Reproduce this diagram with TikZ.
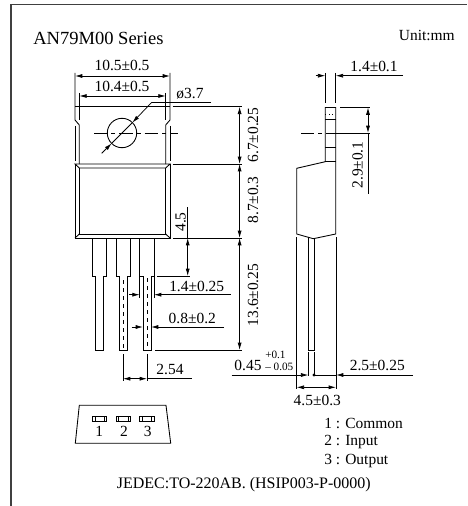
\documentclass[tikz,border=0pt]{standalone}
\usepackage{fontspec}
\setmainfont{Liberation Serif}
\usetikzlibrary{arrows.meta}
\tikzset{
  part/.style={line width=0.65pt},
  dim/.style={line width=0.55pt,>={Latex[length=5.5pt,width=3pt]}},
  centre/.style={line width=0.55pt,dash pattern=on 10pt off 3pt on 3pt off 3pt},
  lbl/.style={inner sep=0pt,font=\fontsize{11.6}{13}\selectfont},
  vlbl/.style={lbl,rotate=90},
  tiny/.style={inner sep=0pt,anchor=west,font=\fontsize{8.4}{10}\selectfont}
}
\begin{document}
\begin{tikzpicture}[x=0.75pt,y=-0.75pt]
  \useasboundingbox (0,0) rectangle (467,506);
  \draw[line width=0.8pt,black!75] (11,506) -- (11,4.5) -- (467,4.5);
  % titles
  \node[inner sep=0pt,anchor=west,font=\fontsize{13.9}{15}\selectfont] (title) at (33,38) {AN79M00 Series};
  \node[lbl,anchor=east] (unit) at (455,35) {Unit:mm};

  % front view, tab
  \draw[part] (75,73) -- (75,120) -- (79.3,125) -- (79.3,164);
  \draw[part] (170,73) -- (170,120) -- (165.7,125) -- (165.7,164);
  \draw[part] (75,126) -- (75,161);
  \draw[part] (170,126) -- (170,161);
  \draw[part] (79.3,93) -- (79.3,120);
  \draw[part] (165.7,93) -- (165.7,120);
  \draw[part] (75,106.7) -- (170,106.7);
  \draw[part] (122,133) circle (14.7);
  \draw[centre] (94,133) -- (178,133);
  % front view, body
  \draw[part] (75,164) -- (170,164) -- (165.7,168) -- (79.3,168) -- cycle;
  \draw[part] (75,164) -- (75,238) -- (170,238) -- (170,164);
  \draw[part] (79.3,168) -- (79.3,234) -- (165.7,234) -- (165.7,168);
  \draw[part] (79.3,234) -- (75,238);
  \draw[part] (165.7,234) -- (170,238);
  % front view, leads
  \draw[part] (92.3,238) -- (92.3,276) -- (95.3,276) -- (95.3,350) -- (103.3,350) -- (103.3,276) -- (106.3,276) -- (106.3,238);
  \draw[part] (116,238) -- (116,276) -- (119.3,276) -- (119.3,350) -- (127.7,350) -- (127.7,276) -- (130.7,276) -- (130.7,238);
  \draw[part] (139.7,238) -- (139.7,276) -- (143,276) -- (143,350) -- (151,350) -- (151,276) -- (154,276) -- (154,238);
  \draw[part] (139.7,276) -- (139.7,298);
  \draw[part] (154,276) -- (154,298);
  \draw[line width=0.55pt,dashed] (123.3,280) -- (123.3,350);
  \draw[line width=0.55pt,dashed] (147,278) -- (147,350);

  % front view, dimensions
  \draw[dim,<->] (75,76) -- (170,76);
  \node[lbl] (wide) at (122,65.7) {10.5±0.5};
  \draw[dim,<->] (79.3,96) -- (165.7,96);
  \node[lbl] (narrow) at (122,86) {10.4±0.5};
  \draw[dim,->] (151.7,102.3) -- (132.4,122.6);
  \draw[dim,->] (101.7,153.3) -- (111.6,143.4);
  \draw[dim] (211,102.3) -- (151.7,102.3);
  \draw[dim] (132.4,122.6) -- (111.6,143.4);
  \node[lbl] (hole) at (190,94) {ø3.7};
  \draw[dim] (172.7,106.7) -- (242,106.7);
  \draw[dim] (172.7,164) -- (242,164);
  \draw[dim] (173,238) -- (242,238);
  \draw[dim] (155,350) -- (242,350);
  \draw[dim] (157,276) -- (190,276);
  \draw[dim,<->] (239.6,106.7) -- (239.6,164);
  \draw[dim,<->] (239.6,164) -- (239.6,238);
  \draw[dim,<->] (239.6,238) -- (239.6,350);
  \node[vlbl] (tabh) at (253,135) {6.7±0.25};
  \node[vlbl] (bodyh) at (253,200) {8.7±0.3};
  \node[vlbl] (leadh) at (253,295) {13.6±0.25};
  \draw[dim,<->] (187.7,238) -- (187.7,276);
  \draw[dim] (187.7,207) -- (187.7,238);
  \node[vlbl] (shoulder) at (180.7,222) {4.5};
  \draw[dim,->] (129.3,294.7) -- (139.7,294.7);
  \draw[dim,->] (230.7,294.7) -- (154,294.7);
  \node[lbl] (leadw) at (196.7,286) {1.4±0.25};
  \draw[dim,->] (131.7,327) -- (143,327);
  \draw[dim,->] (224,327) -- (151,327);
  \node[lbl] (pinw) at (192.3,318.7) {0.8±0.2};
  \draw[dim] (123,354) -- (123,381);
  \draw[dim] (147,354) -- (147,381);
  \draw[dim,<->] (123,378.7) -- (147,378.7);
  \draw[dim] (147,378.7) -- (192,378.7);
  \node[lbl] (pitch) at (170,369) {2.54};

  % side view
  \draw[part] (325.3,73) -- (325.3,103);
  \draw[part] (335.7,73) -- (335.7,103);
  \draw[part] (325.3,107.5) -- (335.7,107.5) -- (335.7,234) -- (313.3,238.7) -- (296.7,234) -- (296.7,168.3) -- (325.3,161.7) -- cycle;
  \draw[part] (325.3,119.3) -- (335.7,119.3);
  \draw[part] (325.3,147.3) -- (335.7,147.3);
  \draw[part,dotted] (325.3,114) -- (335.7,114);
  \draw[part] (325.3,161.7) -- (335.7,161.7);
  \draw[part] (308.3,237) -- (308.3,350) -- (314.3,350) -- (314.3,238);
  \draw[centre] (301,133) -- (340,133);
  \draw[dim] (340,133) -- (370,133);
  \draw[dim] (340,107.5) -- (370,107.5);
  \draw[dim,<->] (368,107.5) -- (368,133);
  \draw[dim] (368,133) -- (368,194);
  \node[vlbl] (tabside) at (357.7,165) {2.9±0.1};
  \draw[dim,->] (315.7,75.7) -- (325.3,75.7);
  \draw[dim,->] (403,75.7) -- (335.7,75.7);
  \node[lbl] (tabt) at (374,66.7) {1.4±0.1};
  \draw[dim] (296.7,237) -- (296.7,389);
  \draw[dim] (336,237) -- (336,389);
  \draw[dim] (308.7,352) -- (308.7,376);
  \draw[dim] (314,352) -- (314,376);
  \draw[dim,->] (231.7,375) -- (308.3,375);
  \draw[dim,->] (413,375) -- (336,375);
  \draw[dim] (336,375) -- (314,375);
  \fill (314,375) circle (1.6);
  \draw[dim,<->] (296.7,387.3) -- (336,387.3);
  \node[lbl] (bodyt) at (317.3,400) {4.5±0.3};
  \node[lbl] (leadt) at (248,365.7) {0.45};
  \node[tiny] (tolup) at (265,354.7) {+0.1};
  \node[tiny] (toldown) at (265,367) {– 0.05};
  \node[lbl] (overall) at (377.3,365.7) {2.5±0.25};

  % pin view
  \draw[part] (79.3,405.3) -- (166,405.3) -- (170.7,443.3) -- (75.3,443.3) -- cycle;
  \draw[part] (92.3,416) rectangle (106.7,421);
  \draw[part] (95,416) -- (95,421);
  \draw[part] (104,416) -- (104,421);
  \draw[part] (116,416) rectangle (130.7,421);
  \draw[part] (118.7,416) -- (118.7,421);
  \draw[part] (128,416) -- (128,421);
  \draw[part] (139.3,416) rectangle (154.3,421);
  \draw[part] (142,416) -- (142,421);
  \draw[part] (151.6,416) -- (151.6,421);
  \node[lbl] (pin1) at (99.3,431.7) {1};
  \node[lbl] (pin2) at (124,431.7) {2};
  \node[lbl] (pin3) at (147.7,431.7) {3};

  % legend
  \node[lbl,anchor=west] (common) at (324,423.3) {1 : Common};
  \node[lbl,anchor=west] (input) at (324,442.3) {2 : Input};
  \node[lbl,anchor=west] (output) at (324,460.7) {3 : Output};
  \node[inner sep=0pt,font=\fontsize{12}{13}\selectfont] (jedec) at (243.8,484.3) {JEDEC:TO-220AB. (HSIP003-P-0000)};
\end{tikzpicture}
\end{document}
